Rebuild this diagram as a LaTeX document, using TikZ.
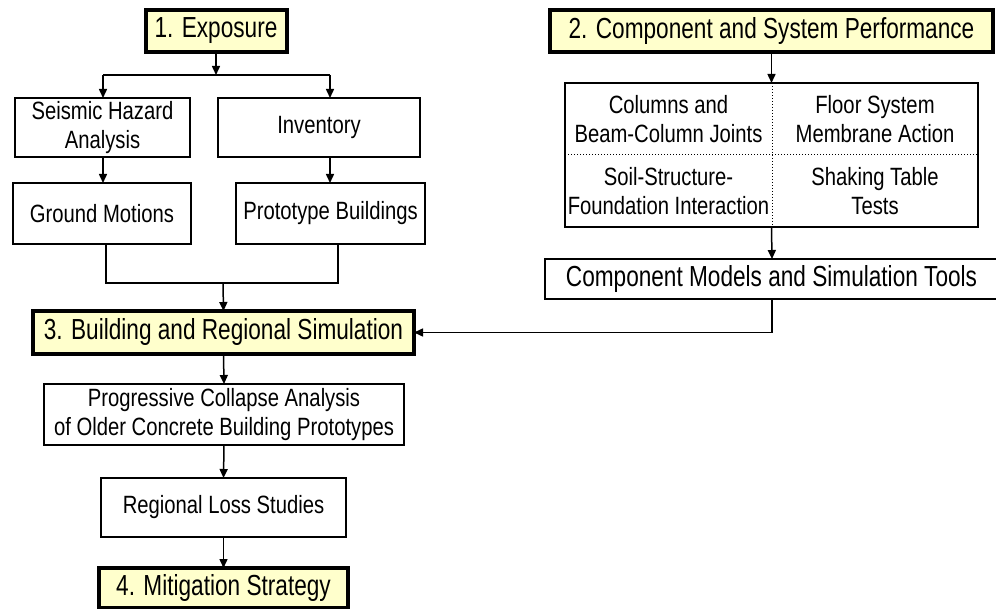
\documentclass[tikz,border=0pt]{standalone}
\usepackage{fontspec}
\setmainfont{Liberation Sans}[FakeStretch=0.81]
\newfontfamily\titlefont{Liberation Sans}[FakeStretch=0.78]
\usetikzlibrary{arrows.meta}
\definecolor{paleyellow}{HTML}{FFFFCC}
\begin{document}
\begin{tikzpicture}[x=1pt,y=-1pt,
  box/.style={draw, line width=1.5pt, fill=white, inner sep=0pt, outer sep=0pt, align=center, font=\fontsize{25}{29}\selectfont},
  title/.style={draw, line width=4pt, fill=paleyellow, inner sep=0pt, outer sep=0pt, align=center, font=\titlefont\fontsize{29}{32}\selectfont},
  cell/.style={inner sep=0pt, align=center, font=\fontsize{25}{29}\selectfont},
  arr/.style={line width=1.5pt, -{Triangle[length=9pt,width=8pt]}},
  ln/.style={line width=1.5pt}]
\useasboundingbox (0,0) rectangle (996,609);
% left column
\node[title, minimum width=141, minimum height=42] (exp) at (216,31) {1. Exposure};
\node[box, minimum width=175, minimum height=59] (sha) at (102.5,127.5) {Seismic Hazard\\Analysis};
\node[box, minimum width=202, minimum height=59] (inv) at (319,127.5) {Inventory};
\node[box, minimum width=178, minimum height=61] (gm) at (102,213.5) {Ground Motions};
\node[box, minimum width=189, minimum height=61] (pb) at (330.5,213.5) {Prototype Buildings};
\node[title, minimum width=381, minimum height=43] (b3) at (223.5,332.5) {3. Building and Regional Simulation};
\node[box, minimum width=360, minimum height=61] (pca) at (224,414.5) {Progressive Collapse Analysis\\of Older Concrete Building Prototypes};
\node[box, minimum width=245, minimum height=59] (rls) at (223.5,507.5) {Regional Loss Studies};
\node[title, minimum width=249, minimum height=40] (mit) at (223.5,588) {4. Mitigation Strategy};
% right column
\node[title, minimum width=443, minimum height=42] (b2) at (771.5,31) {2. Component and System Performance};
\node[box, minimum width=413, minimum height=144] (grid) at (771.5,155) {};
\draw[line width=1pt, dotted] (772,83) -- (772,227);
\draw[line width=1pt, dotted] (565,155) -- (978,155);
\node[cell] (c1) at (668.5,119) {Columns and\\Beam-Column Joints};
\node[cell] (c2) at (875,119) {Floor System\\Membrane Action};
\node[cell] (c3) at (668.5,191) {Soil-Structure-\\Foundation Interaction};
\node[cell] (c4) at (875,191) {Shaking Table\\Tests};
\node[box, minimum width=453, minimum height=40, font=\titlefont\fontsize{29}{32}\selectfont] (cm) at (771.5,279) {Component Models and Simulation Tools};
% connectors
\coordinate (split) at (216,75);
\draw[arr] (exp.south) -- (split);
\draw[ln] (103,75) -- (330,75);
\draw[arr] (103,75) -- (103,98);
\draw[arr] (330,75) -- (330,98);
\draw[arr] (103,157) -- (103,183);
\draw[arr] (330,157) -- (330,183);
\draw[ln] (106,244) -- (106,283) -- (338,283) -- (338,244);
\draw[arr] (223,283) -- (b3.north);
\draw[arr] (b3.south) -- (pca.north);
\draw[arr] (pca.south) -- (rls.north);
\draw[arr] (rls.south) -- (mit.north);
\draw[arr] (b2.south) -- (grid.north);
\draw[arr] (grid.south) -- (772,259);
\draw[arr] (772,299) -- (772,332.5) -- (b3.east);
\end{tikzpicture}
\end{document}
